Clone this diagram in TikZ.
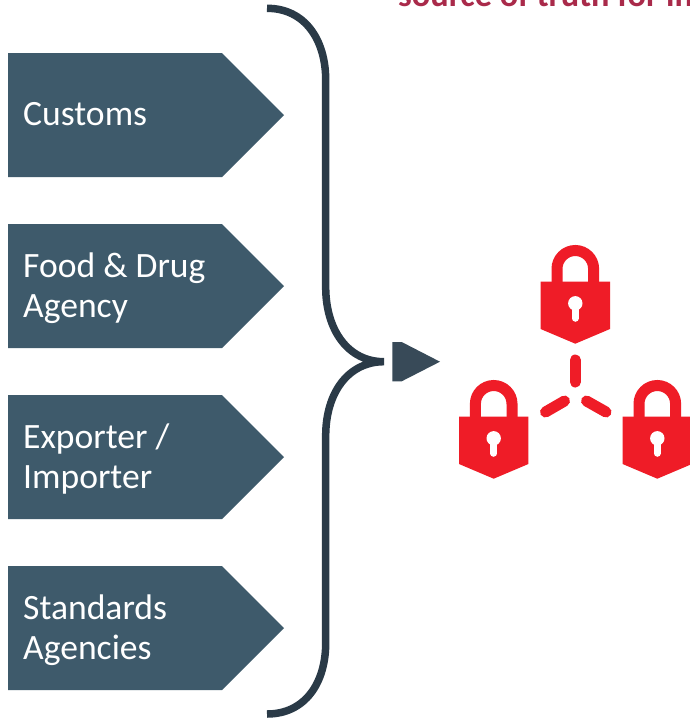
\documentclass[tikz,border=0pt]{standalone}
\usepackage{fontspec}
\setmainfont{Carlito}
\definecolor{slate}{HTML}{3E5A6B}
\definecolor{bracecol}{HTML}{2A3A47}
\definecolor{arrowcol}{HTML}{384A58}
\definecolor{lockred}{HTML}{EF1C27}
\definecolor{titlered}{HTML}{A92A4A}
\tikzset{
  x=1pt,y=-1pt,
  tagshape/.style={fill=slate,draw=none},
  taglabel/.style={anchor=west,align=left,text=white,font=\fontsize{35.6}{39.5}\selectfont,inner sep=0pt},
  bracestroke/.style={draw=bracecol,line width=7.5pt,fill=none},
  lockpart/.style={fill=lockred,draw=none},
  shacklepart/.style={draw=lockred,line width=11pt,fill=none},
  linkdash/.style={draw=lockred,line width=11pt,line cap=round},
  lockhole/.style={fill=white,draw=none},
}
\newcommand{\tagat}[4]{%
  \fill[tagshape] (8,#1) -- (222,#1) -- (284,#1+62) -- (222,#1+124) -- (8,#1+124) -- cycle;
  \node[taglabel] (#2) at (23,#1+#4) {#3};}
\newcommand{\lockat}[2]{%
  \begin{scope}[shift={(#1,#2)}]
    \draw[shacklepart] (-18.3,37) -- (-18.3,23.8) arc[start angle=180,end angle=360,radius=18.3] -- (18.3,37);
    \fill[lockpart] (-34.7,36.7) -- (34.7,36.7) -- (34.7,84) -- (0,98.7) -- (-34.7,84) -- cycle;
    \fill[lockhole] (0,58.3) circle[radius=7.2];
    \draw[lockhole,draw=white,line width=6.5pt,line cap=round] (0,60) -- (0,73.5);
  \end{scope}}
\begin{document}
\begin{tikzpicture}
\useasboundingbox[fill=white] (0,0) rectangle (689,718);
\begin{scope}
\clip (0,0) rectangle (689,718);
\node[anchor=base west,inner sep=0pt,text=titlered,font=\fontsize{34.3}{38}\selectfont\bfseries] (title) at (398,6) {source of truth for in};
\end{scope}
\tagat{53}{customs}{Customs}{61}
\tagat{224}{food}{Food \& Drug\\Agency}{64}
\tagat{395}{exporter}{Exporter /\\Importer}{64}
\tagat{566}{standards}{Standards\\Agencies}{64}
\draw[bracestroke] (267,8.3) .. controls (305,8.3) and (325.7,40) .. (325.7,80)
  -- (325.7,287) .. controls (325.7,330) and (348,361.7) .. (384,361.7)
  .. controls (348,361.7) and (325.7,393) .. (325.7,436)
  -- (325.7,643) .. controls (325.7,683) and (305,714) .. (267,714);
\fill[arrowcol] (392.3,342) -- (401.7,342) -- (440,361.7) -- (401.7,381.3) -- (392.3,381.3) -- cycle;
\lockat{575.3}{245}
\lockat{493.7}{380}
\lockat{657.3}{380}
\draw[linkdash] (575.3,360) -- (575.3,382);
\draw[linkdash] (564.5,401) -- (545.5,412);
\draw[linkdash] (586.5,401) -- (606,412);
\end{tikzpicture}
\end{document}
